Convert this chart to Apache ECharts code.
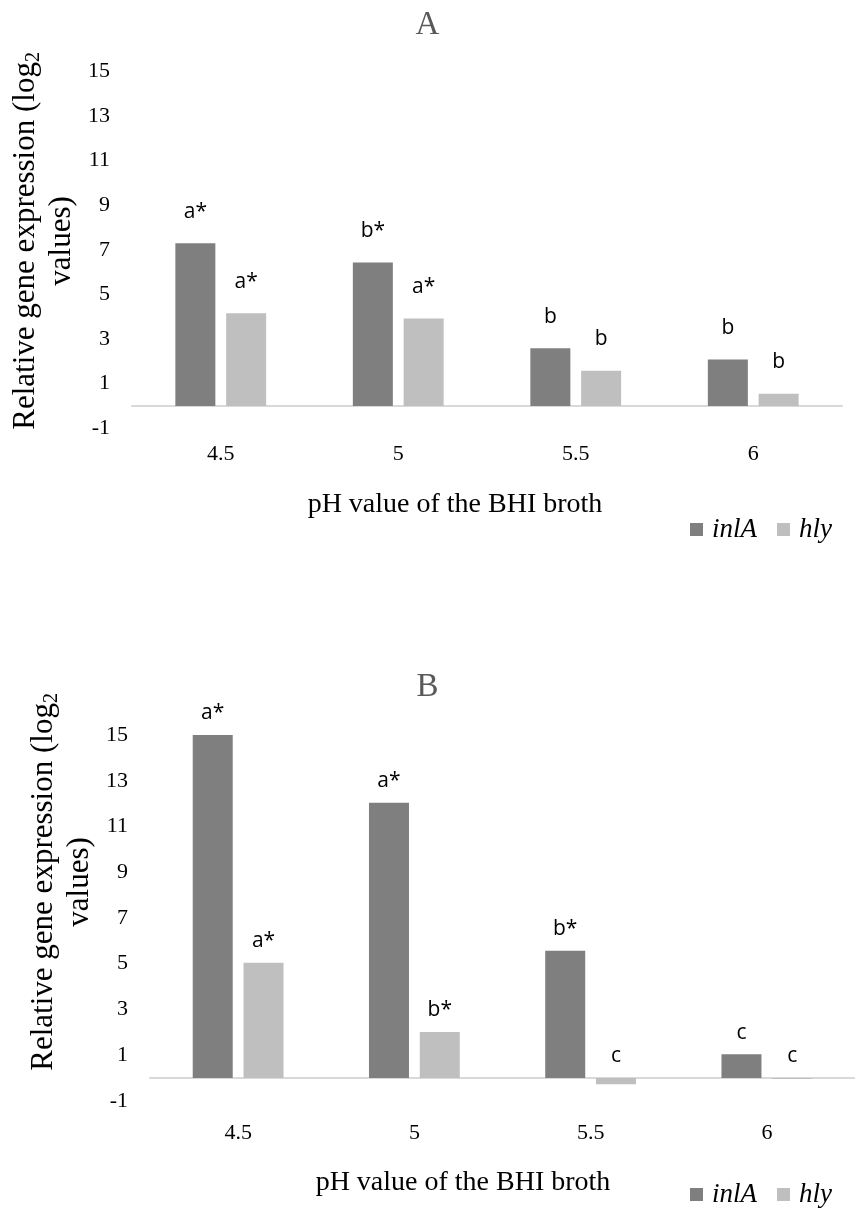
<!DOCTYPE html>
<html>
<head>
<meta charset="utf-8">
<script src="https://cdn.jsdelivr.net/npm/echarts@6/dist/echarts.min.js"></script>
<style>
  html, body { margin: 0; padding: 0; background: #ffffff; }
  #chart { width: 855px; height: 1209px; }
</style>
</head>
<body>
<div id="chart"></div>
<script>
// ---- data ----
const categories = ['4.5', '5', '5.5', '6'];
const seriesNames = ['inlA', 'hly'];

// Panel A
const inlA_A = [7.30, 6.44, 2.59, 2.08];
const hly_A  = [4.16, 3.92, 1.58, 0.55];
const sigInlA_A = ['a*', 'b*', 'b', 'b'];
const sigHly_A  = ['a*', 'a*', 'b', 'b'];

// Panel B
const inlA_B = [15.1, 12.04, 5.56, 1.04];
const hly_B  = [5.04, 2.01, -0.28, -0.05];
const sigInlA_B = ['a*', 'a*', 'b*', 'c'];
const sigHly_B  = ['a*', 'b*', 'c', 'c'];

const panelTitles = ['A', 'B'];
const xTitle = 'pH value of the BHI broth';
const yTitleLine1 = 'Relative gene expression (log';
const yTitleSub = '2';
const yTitleLine2 = 'values)';
const yMin = -1, yMax = 15, yStep = 2;

// ---- styles ----
const SERIF = "'Liberation Serif', 'Times New Roman', serif";
const SANS = "'Open Sans', 'Noto Sans', sans-serif";
const C_INLA = '#7f7f7f';
const C_HLY = '#bfbfbf';

function yAxisCfg(gridIndex, shiftUp) {
  return {
    type: 'value', gridIndex: gridIndex,
    min: yMin, max: yMax, interval: yStep,
    axisLine: { show: false }, axisTick: { show: false }, splitLine: { show: false },
    axisLabel: { fontFamily: SERIF, fontSize: 22, color: '#000', margin: 22 },
    name: '{n|' + yTitleLine1 + '}{s|' + yTitleSub + '}\n{n|' + yTitleLine2 + '}',
    nameLocation: 'middle', nameRotate: 90, nameGap: 47,
    nameTextStyle: {
      align: 'center',
      padding: [0, 0, 0, shiftUp],
      rich: {
        n: { fontFamily: SERIF, fontSize: 31, color: '#000', lineHeight: 36 },
        s: { fontFamily: SERIF, fontSize: 20, color: '#000', lineHeight: 36, verticalAlign: 'bottom', padding: [12, 0, 0, 0] }
      }
    }
  };
}
function xAxisCfg(gridIndex, margin) {
  return {
    type: 'category', gridIndex: gridIndex, data: categories,
    axisLine: { onZero: true, lineStyle: { color: '#d9d9d9', width: 2 } },
    axisTick: { show: false },
    axisLabel: { fontFamily: SERIF, fontSize: 22, color: '#000', margin: margin }
  };
}
function barSeries(name, data, sig, color, axisIdx, dist) {
  return {
    name: name, type: 'bar', xAxisIndex: axisIdx, yAxisIndex: axisIdx,
    data: data, barWidth: 40, barGap: '27%',
    itemStyle: { color: color },
    label: {
      show: true, position: 'top', distance: dist,
      fontFamily: SANS, fontSize: 21, color: '#000',
      formatter: function (p) { return sig[p.dataIndex]; }
    },
    emphasis: { disabled: true }
  };
}
function legendCfg(top) {
  return {
    data: seriesNames, left: 690, top: top, padding: 0,
    icon: 'rect', itemWidth: 13, itemHeight: 13, itemGap: 20,
    selectedMode: false,
    textStyle: { fontFamily: SERIF, fontStyle: 'italic', fontSize: 27, color: '#000', padding: [0, 0, 0, 4] }
  };
}

const chart = echarts.init(document.getElementById('chart'), null, { renderer: 'canvas' });
chart.setOption({
  animation: false,
  backgroundColor: '#ffffff',
  title: [
    { text: panelTitles[0], left: 'center', top: 9, padding: 0,
      textStyle: { fontFamily: SERIF, fontSize: 33, fontWeight: 'normal', color: '#595959' } },
    { text: panelTitles[1], left: 'center', top: 671, padding: 0,
      textStyle: { fontFamily: SERIF, fontSize: 33, fontWeight: 'normal', color: '#595959' } },
    { text: xTitle, left: 455, textAlign: 'center', top: 491, padding: 0,
      textStyle: { fontFamily: SERIF, fontSize: 28, fontWeight: 'normal', color: '#000' } },
    { text: xTitle, left: 463, textAlign: 'center', top: 1169, padding: 0,
      textStyle: { fontFamily: SERIF, fontSize: 28, fontWeight: 'normal', color: '#000' } }
  ],
  legend: [legendCfg(516), legendCfg(1181)],
  grid: [
    { left: 132, right: 13, top: 71.5, height: 356.8 },
    { left: 150, right: 0, top: 735, height: 365.8 }
  ],
  xAxis: [xAxisCfg(0, 15), xAxisCfg(1, 21)],
  yAxis: [yAxisCfg(0, 18), yAxisCfg(1, 72)],
  series: [
    barSeries(seriesNames[0], inlA_A, sigInlA_A, C_INLA, 0, 21),
    barSeries(seriesNames[1], hly_A, sigHly_A, C_HLY, 0, 21),
    barSeries(seriesNames[0], inlA_B, sigInlA_B, C_INLA, 1, 11),
    barSeries(seriesNames[1], hly_B, sigHly_B, C_HLY, 1, 11)
  ]
});
</script>
</body>
</html>
